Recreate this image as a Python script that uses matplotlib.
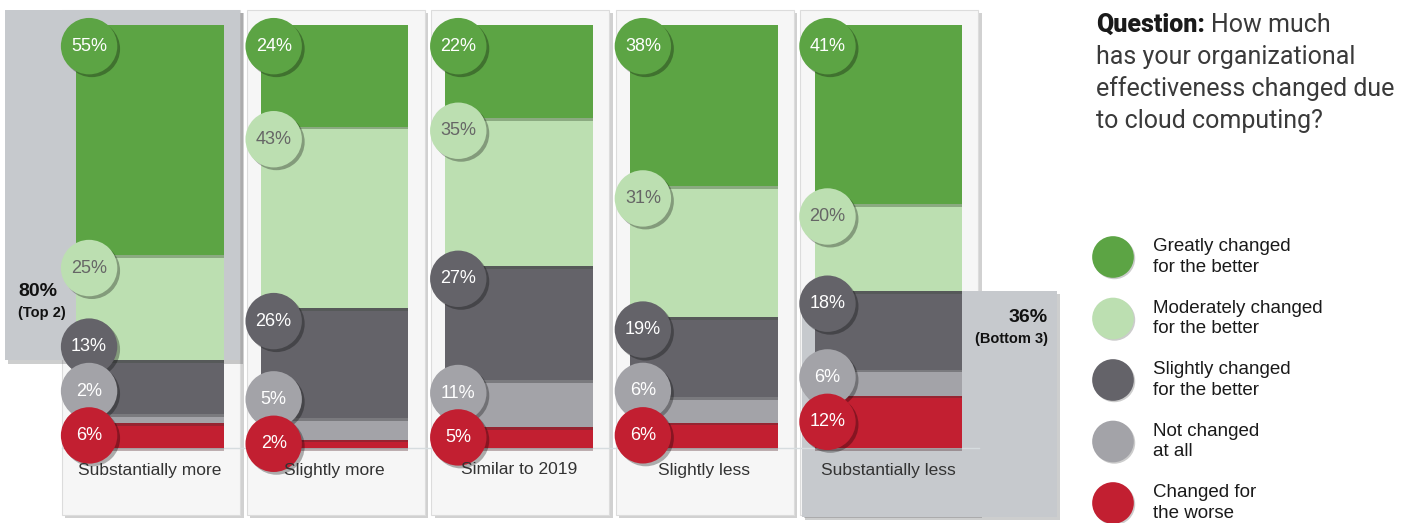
import numpy as np
import matplotlib
matplotlib.use('Agg')
import matplotlib.pyplot as plt
from matplotlib.patches import Rectangle
import matplotlib.patheffects as pe

plt.rcParams['font.family'] = ['Liberation Sans', 'DejaVu Sans']

#%% data

categories = ['Substantially more', 'Slightly more', 'Similar to 2019',
              'Slightly less', 'Substantially less']
responses = ['Greatly changed\nfor the better',
             'Moderately changed\nfor the better',
             'Slightly changed\nfor the better',
             'Not changed\nat all',
             'Changed for\nthe worse']
greatly     = [55, 24, 22, 38, 41]
moderately  = [25, 43, 35, 31, 20]
slightly    = [13, 26, 27, 19, 18]
not_changed = [2, 5, 11, 6, 6]
worse       = [6, 2, 5, 6, 12]
question_lines = ['has your organizational', 'effectiveness changed due',
                  'to cloud computing?']

#%% styles

colors = ['#5ca444', '#bcdfb1', '#646369', '#a3a3a8', '#c21f31']
txt_colors = ['white', '#666666', 'white', 'white', 'white']
panel_c = '#f6f6f6'
box_c = '#c6c9cd'

W, H = 1428, 523
X0, DX = 150, 184.6      # px of first bar centre, px between bars
Y0, DY = 448, 4.23       # px of bar bottom, px per percent

def px2x(px):
    return (px - X0)/DX

def px2y(py):
    return (Y0 - py)/DY

fig = plt.figure(figsize=(W/100, H/100), dpi=100)
ax = fig.add_axes([0, 0, 1, 1])
ax.set_xlim(px2x(0), px2x(W))
ax.set_ylim(px2y(H), px2y(0))
ax.axis('off')

data = np.array([greatly, moderately, slightly, not_changed, worse], dtype=float)
totals = data.sum(axis=0)
norm = data/totals*100          # stacked bars always fill the column
x = np.arange(len(categories))
bw = 0.8

shadow = [pe.SimplePatchShadow(offset=(2.5, -2.5), alpha=0.25), pe.Normal()]

# panels behind each bar
for i in x:
    ax.add_patch(Rectangle((i - 0.477, px2y(515)), 0.965, px2y(10) - px2y(515),
                           facecolor=panel_c, edgecolor='#dcdcdc', lw=0.8,
                           zorder=1, path_effects=shadow))

# Top 2 box (first bar) and Bottom 3 box (last bar)
top2 = greatly[0] + moderately[0]
top2_base = norm[2:, 0].sum()
ax.add_patch(Rectangle((px2x(5), top2_base), px2x(240) - px2x(5),
                       px2y(10) - top2_base, facecolor=box_c, edgecolor='none',
                       zorder=2, path_effects=shadow))
ax.text(px2x(18), px2y(292), '%d%%' % top2, fontsize=14, fontweight='bold',
        ha='left', va='center', color='#111111', zorder=6)
ax.text(px2x(18), px2y(313), '(Top 2)', fontsize=10.5, fontweight='bold',
        ha='left', va='center', color='#111111', zorder=6)

bottom3 = slightly[-1] + not_changed[-1] + worse[-1]
bottom3_top = norm[2:, -1].sum()
ax.add_patch(Rectangle((px2x(802), px2y(517)), px2x(1057) - px2x(802),
                       bottom3_top - px2y(517), facecolor=box_c, edgecolor='none',
                       zorder=2, path_effects=shadow))
ax.text(px2x(1048), px2y(318), '%d%%' % bottom3, fontsize=14, fontweight='bold',
        ha='right', va='center', color='#111111', zorder=6)
ax.text(px2x(1048), px2y(339), '(Bottom 3)', fontsize=10.5, fontweight='bold',
        ha='right', va='center', color='#111111', zorder=6)

# baseline
ax.plot([x[0] - 0.477, x[-1] + 0.49], [0, 0], color='#d6dcdf', lw=1, zorder=2.5)

#%% stacked bars, bottom segment first

bar_shadow = [pe.SimplePatchShadow(offset=(0, -2), alpha=0.3), pe.Normal()]
bottom = np.zeros(len(x))
for k in range(len(responses) - 1, -1, -1):
    ax.bar(x, norm[k], bw, bottom=bottom, color=colors[k], zorder=3,
           path_effects=bar_shadow)
    bottom = bottom + norm[k]

#%% circle labels

circ_shadow = [pe.SimplePatchShadow(offset=(2, -2), shadow_rgbFace='black',
                                    alpha=0.3), pe.Normal()]
gap = 10.5
for i in x:
    tops = np.cumsum(norm[::-1, i])[::-1]      # top of each segment
    ys = np.zeros(len(responses))
    prev = None
    for k in range(len(responses) - 1, -1, -1):
        if prev is None:
            yk = tops[k] - norm[k, i]/2
        else:
            yk = max(min(tops[k] - 3, 95), prev + gap)
        ys[k] = yk
        prev = yk
    cx = i - 0.33
    for k in range(len(responses)):
        ax.scatter(cx, ys[k], s=1650, color=colors[k], edgecolors='none',
                   zorder=5 + k*0.1, path_effects=circ_shadow)
        ax.text(cx, ys[k], '%d%%' % data[k, i], fontsize=13,
                color=txt_colors[k], ha='center', va='center', zorder=5.05 + k*0.1)
    ax.text(i, px2y(470), categories[i], fontsize=12.5, color='#333333',
            ha='center', va='center', zorder=6)

#%% question and legend

qfont = ['Roboto', 'DejaVu Sans']
r = fig.canvas.get_renderer()
t = fig.text(1096/W, 1 - 25/H, 'Question:', fontsize=18, fontweight='heavy',
             family=qfont, color='#1a1a1a', va='center')
bb = t.get_window_extent(renderer=r)
fig.text(bb.x1/W + 6/W, 1 - 25/H, 'How much', fontsize=18,
         family=qfont, color='#3a3a3a', va='center')
for j, line in enumerate(question_lines):
    fig.text(1096/W, 1 - (57 + 32*j)/H, line, fontsize=18,
             family=qfont, color='#3a3a3a', va='center')

leg_shadow = [pe.SimplePatchShadow(offset=(1, -1), shadow_rgbFace='black',
                                   alpha=0.2), pe.Normal()]
for k, lab in enumerate(responses):
    yk = 257 + 61.5*k
    ax.scatter(px2x(1113), px2y(yk), s=900, color=colors[k], edgecolors='none',
               zorder=5, path_effects=leg_shadow)
    ax.text(px2x(1153), px2y(yk), lab, fontsize=13.5, color='#1a1a1a',
            ha='left', va='center', linespacing=1.3, zorder=6)

fig.savefig('out.png', dpi=100)
